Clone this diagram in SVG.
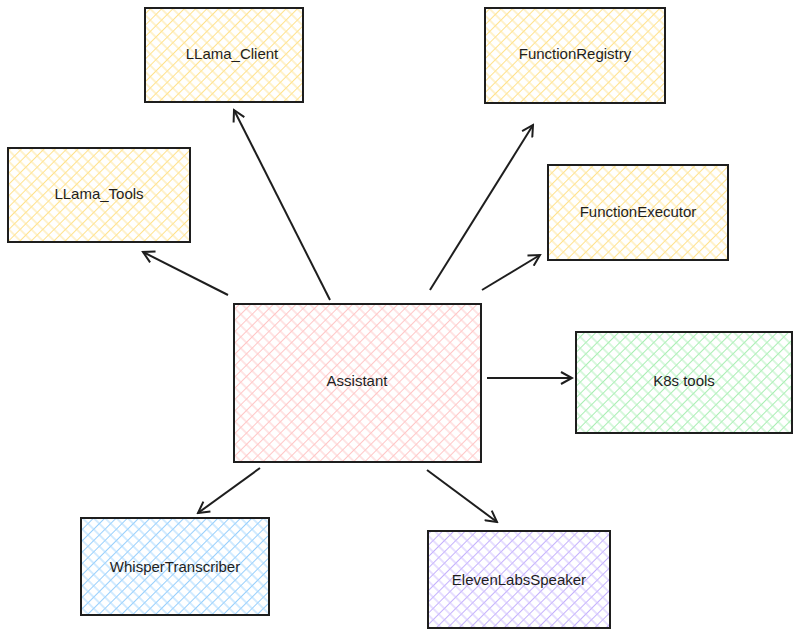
<svg xmlns="http://www.w3.org/2000/svg" width="800" height="641" viewBox="0 0 800 641">
<style>
.box{stroke:#1e1e1e;stroke-width:2}
.lbl{font-family:"Liberation Sans",sans-serif;font-size:15px;fill:#1e1e1e;text-anchor:middle;dominant-baseline:middle}
.ar{stroke:#1e1e1e;stroke-width:2;fill:none;marker-end:url(#ah)}
</style>
<defs>
<marker id="ah" markerWidth="14" markerHeight="14" refX="12" refY="7" orient="auto" markerUnits="userSpaceOnUse">
<path d="M1,1 L12,7 L1,13" fill="none" stroke="#1e1e1e" stroke-width="2"/>
</marker>
<pattern id="py" width="8" height="8" patternUnits="userSpaceOnUse" patternTransform="rotate(45)"><rect width="8" height="8" fill="#fff"/><line x1="0" y1="0" x2="0" y2="8" stroke="#ffd966" stroke-width="1.5"/><line x1="0" y1="4" x2="8" y2="4" stroke="#ffe599" stroke-width="1"/></pattern>
<pattern id="pp" width="8" height="8" patternUnits="userSpaceOnUse" patternTransform="rotate(45)"><rect width="8" height="8" fill="#fff"/><line x1="0" y1="0" x2="0" y2="8" stroke="#ffb3b3" stroke-width="1.5"/><line x1="0" y1="4" x2="8" y2="4" stroke="#ffc9c9" stroke-width="1"/></pattern>
<pattern id="pg" width="8" height="8" patternUnits="userSpaceOnUse" patternTransform="rotate(45)"><rect width="8" height="8" fill="#fff"/><line x1="0" y1="0" x2="0" y2="8" stroke="#8ce99a" stroke-width="1.5"/><line x1="0" y1="4" x2="8" y2="4" stroke="#b2f2bb" stroke-width="1"/></pattern>
<pattern id="pb" width="8" height="8" patternUnits="userSpaceOnUse" patternTransform="rotate(45)"><rect width="8" height="8" fill="#fff"/><line x1="0" y1="0" x2="0" y2="8" stroke="#74c0fc" stroke-width="1.5"/><line x1="0" y1="4" x2="8" y2="4" stroke="#a5d8ff" stroke-width="1"/></pattern>
<pattern id="pv" width="8" height="8" patternUnits="userSpaceOnUse" patternTransform="rotate(45)"><rect width="8" height="8" fill="#fff"/><line x1="0" y1="0" x2="0" y2="8" stroke="#b197fc" stroke-width="1.5"/><line x1="0" y1="4" x2="8" y2="4" stroke="#d0bfff" stroke-width="1"/></pattern>
</defs>
<rect width="800" height="641" fill="#fff"/>
<g id="connectors">
<line class="ar" x1="330" y1="300" x2="234" y2="110"/>
<line class="ar" x1="228" y1="295" x2="143" y2="252"/>
<line class="ar" x1="430" y1="290" x2="533" y2="125"/>
<line class="ar" x1="482" y1="290" x2="540" y2="255"/>
<line class="ar" x1="487" y1="378" x2="572" y2="378"/>
<line class="ar" x1="260" y1="468" x2="198" y2="513"/>
<line class="ar" x1="427" y1="470" x2="497" y2="522"/>
</g>
<g id="llama_client"><rect class="box" x="145" y="8" width="158" height="94" fill="url(#py)"/><text class="lbl" x="232" y="55">LLama_Client</text></g>
<g id="function_registry"><rect class="box" x="485" y="8" width="180" height="95" fill="url(#py)"/><text class="lbl" x="575" y="55">FunctionRegistry</text></g>
<g id="llama_tools"><rect class="box" x="8" y="148" width="182" height="94" fill="url(#py)"/><text class="lbl" x="99" y="195">LLama_Tools</text></g>
<g id="function_executor"><rect class="box" x="548" y="165" width="180" height="95" fill="url(#py)"/><text class="lbl" x="638" y="213">FunctionExecutor</text></g>
<g id="assistant"><rect class="box" x="234" y="304" width="247" height="158" fill="url(#pp)"/><text class="lbl" x="357" y="382">Assistant</text></g>
<g id="k8s_tools"><rect class="box" x="576" y="332" width="216" height="101" fill="url(#pg)"/><text class="lbl" x="684" y="382">K8s tools</text></g>
<g id="whisper"><rect class="box" x="81" y="518" width="188" height="97" fill="url(#pb)"/><text class="lbl" x="175" y="568">WhisperTranscriber</text></g>
<g id="elevenlabs"><rect class="box" x="428" y="531" width="182" height="97" fill="url(#pv)"/><text class="lbl" x="519" y="581">ElevenLabsSpeaker</text></g>
</svg>
